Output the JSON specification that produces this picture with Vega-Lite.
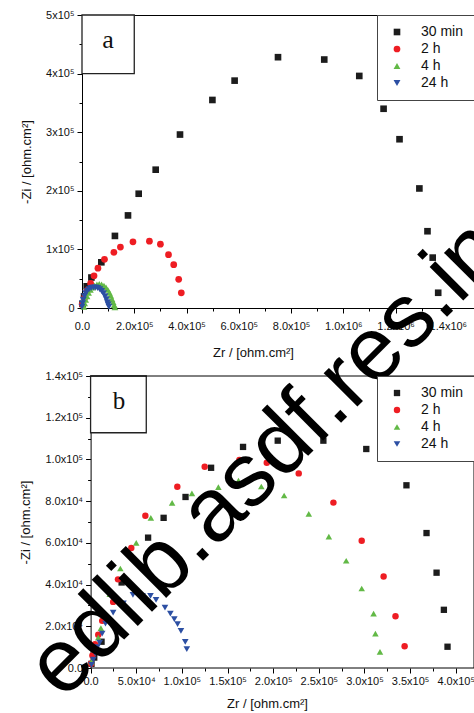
{
  "$schema": "https://vega.github.io/schema/vega-lite/v6.json",
  "padding": {"left": 11, "top": 8, "right": 0, "bottom": 0},
  "bounds": "flush",
  "spacing": 68,
  "resolve": {"scale": {"color": "independent", "shape": "independent", "size": "independent"}, "legend": {"color": "independent", "shape": "independent", "size": "independent"}},
  "config": {
    "font": "Liberation Sans",
    "view": {"stroke": "#000", "strokeWidth": 1},
    "axis": {"domainColor": "#000", "tickColor": "#000", "labelColor": "#111", "titleColor": "#111", "labelFont": "Liberation Sans", "titleFont": "Liberation Sans", "labelFontSize": 11, "titleFontSize": 13, "titleFontWeight": "normal", "grid": false, "tickSize": 5, "labelOverlap": false, "labelFlush": false},
    "legend": {"orient": "top-right", "offset": 0, "strokeColor": "#444", "fillColor": "white", "padding": 10, "symbolOffset": 3, "labelOffset": 17, "rowPadding": 3, "labelFontSize": 14, "labelFont": "Liberation Sans", "labelColor": "#111", "title": null}
  },
  "datasets": {
    "a": [
      {"series": "30 min", "zr": 2000, "zi": 7000}, {"series": "30 min", "zr": 8000, "zi": 20000}, {"series": "30 min", "zr": 18000, "zi": 37000}, {"series": "30 min", "zr": 36000, "zi": 52000}, {"series": "30 min", "zr": 74000, "zi": 78000}, {"series": "30 min", "zr": 126000, "zi": 123000}, {"series": "30 min", "zr": 176000, "zi": 158000}, {"series": "30 min", "zr": 217000, "zi": 195000}, {"series": "30 min", "zr": 282000, "zi": 236000}, {"series": "30 min", "zr": 375000, "zi": 296000}, {"series": "30 min", "zr": 499000, "zi": 355000}, {"series": "30 min", "zr": 584000, "zi": 388000}, {"series": "30 min", "zr": 750000, "zi": 428000}, {"series": "30 min", "zr": 927000, "zi": 424000}, {"series": "30 min", "zr": 1061000, "zi": 396000}, {"series": "30 min", "zr": 1154000, "zi": 340000}, {"series": "30 min", "zr": 1215000, "zi": 288000}, {"series": "30 min", "zr": 1291000, "zi": 204000}, {"series": "30 min", "zr": 1322000, "zi": 131000}, {"series": "30 min", "zr": 1342000, "zi": 86000}, {"series": "30 min", "zr": 1363000, "zi": 26000},
      {"series": "2 h", "zr": 1000, "zi": 6000}, {"series": "2 h", "zr": 10000, "zi": 18000}, {"series": "2 h", "zr": 20000, "zi": 30000}, {"series": "2 h", "zr": 33000, "zi": 42000}, {"series": "2 h", "zr": 46000, "zi": 55000}, {"series": "2 h", "zr": 61000, "zi": 68000}, {"series": "2 h", "zr": 86000, "zi": 83000}, {"series": "2 h", "zr": 122000, "zi": 95000}, {"series": "2 h", "zr": 147000, "zi": 104000}, {"series": "2 h", "zr": 195000, "zi": 113000}, {"series": "2 h", "zr": 258000, "zi": 114000}, {"series": "2 h", "zr": 300000, "zi": 109000}, {"series": "2 h", "zr": 331000, "zi": 91000}, {"series": "2 h", "zr": 351000, "zi": 74000}, {"series": "2 h", "zr": 370000, "zi": 49000}, {"series": "2 h", "zr": 380000, "zi": 26000},
      {"series": "4 h", "zr": 7000, "zi": 2000}, {"series": "4 h", "zr": 10000, "zi": 8000}, {"series": "4 h", "zr": 14000, "zi": 14000}, {"series": "4 h", "zr": 19000, "zi": 20000}, {"series": "4 h", "zr": 25000, "zi": 26000}, {"series": "4 h", "zr": 32000, "zi": 31000}, {"series": "4 h", "zr": 40000, "zi": 35000}, {"series": "4 h", "zr": 48000, "zi": 38000}, {"series": "4 h", "zr": 57000, "zi": 40000}, {"series": "4 h", "zr": 66000, "zi": 41000}, {"series": "4 h", "zr": 75000, "zi": 40000}, {"series": "4 h", "zr": 84000, "zi": 38000}, {"series": "4 h", "zr": 92000, "zi": 35000}, {"series": "4 h", "zr": 99000, "zi": 31000}, {"series": "4 h", "zr": 105000, "zi": 26000}, {"series": "4 h", "zr": 110000, "zi": 21000}, {"series": "4 h", "zr": 115000, "zi": 15000}, {"series": "4 h", "zr": 119000, "zi": 10000}, {"series": "4 h", "zr": 123000, "zi": 5000}, {"series": "4 h", "zr": 126000, "zi": 1000},
      {"series": "24 h", "zr": 0, "zi": 2000}, {"series": "24 h", "zr": 2000, "zi": 8000}, {"series": "24 h", "zr": 5000, "zi": 14000}, {"series": "24 h", "zr": 9000, "zi": 20000}, {"series": "24 h", "zr": 14000, "zi": 25000}, {"series": "24 h", "zr": 20000, "zi": 29000}, {"series": "24 h", "zr": 27000, "zi": 32000}, {"series": "24 h", "zr": 35000, "zi": 34000}, {"series": "24 h", "zr": 44000, "zi": 35000}, {"series": "24 h", "zr": 52000, "zi": 35000}, {"series": "24 h", "zr": 60000, "zi": 34000}, {"series": "24 h", "zr": 68000, "zi": 32000}, {"series": "24 h", "zr": 75000, "zi": 29000}, {"series": "24 h", "zr": 82000, "zi": 25000}, {"series": "24 h", "zr": 88000, "zi": 20000}, {"series": "24 h", "zr": 93000, "zi": 15000}, {"series": "24 h", "zr": 97000, "zi": 10000}, {"series": "24 h", "zr": 100000, "zi": 6000}, {"series": "24 h", "zr": 103000, "zi": 2000}
    ],
    "b": [
      {"series": "30 min", "zr": 1000, "zi": 2000}, {"series": "30 min", "zr": 4000, "zi": 5000}, {"series": "30 min", "zr": 12000, "zi": 12600}, {"series": "30 min", "zr": 34000, "zi": 41000}, {"series": "30 min", "zr": 63000, "zi": 62500}, {"series": "30 min", "zr": 80000, "zi": 72000}, {"series": "30 min", "zr": 104000, "zi": 82000}, {"series": "30 min", "zr": 132000, "zi": 96000}, {"series": "30 min", "zr": 167000, "zi": 106000}, {"series": "30 min", "zr": 205000, "zi": 109000}, {"series": "30 min", "zr": 255000, "zi": 109000}, {"series": "30 min", "zr": 302000, "zi": 105000}, {"series": "30 min", "zr": 346000, "zi": 87600}, {"series": "30 min", "zr": 368000, "zi": 64700}, {"series": "30 min", "zr": 379000, "zi": 45700}, {"series": "30 min", "zr": 387000, "zi": 27900}, {"series": "30 min", "zr": 391000, "zi": 10200},
      {"series": "2 h", "zr": 500, "zi": 2000}, {"series": "2 h", "zr": 2000, "zi": 6000}, {"series": "2 h", "zr": 4800, "zi": 11400}, {"series": "2 h", "zr": 8400, "zi": 15900}, {"series": "2 h", "zr": 12700, "zi": 22600}, {"series": "2 h", "zr": 24700, "zi": 31700}, {"series": "2 h", "zr": 30000, "zi": 42500}, {"series": "2 h", "zr": 44600, "zi": 57500}, {"series": "2 h", "zr": 60000, "zi": 73000}, {"series": "2 h", "zr": 95000, "zi": 86900}, {"series": "2 h", "zr": 125000, "zi": 96500}, {"series": "2 h", "zr": 163000, "zi": 99800}, {"series": "2 h", "zr": 193000, "zi": 98400}, {"series": "2 h", "zr": 228000, "zi": 93300}, {"series": "2 h", "zr": 266000, "zi": 79300}, {"series": "2 h", "zr": 297000, "zi": 61000}, {"series": "2 h", "zr": 321000, "zi": 43900}, {"series": "2 h", "zr": 334000, "zi": 24800}, {"series": "2 h", "zr": 344000, "zi": 10400},
      {"series": "4 h", "zr": 1000, "zi": 3000}, {"series": "4 h", "zr": 4000, "zi": 9000}, {"series": "4 h", "zr": 8400, "zi": 14600}, {"series": "4 h", "zr": 11300, "zi": 19100}, {"series": "4 h", "zr": 21000, "zi": 35400}, {"series": "4 h", "zr": 32600, "zi": 47700}, {"series": "4 h", "zr": 50000, "zi": 60000}, {"series": "4 h", "zr": 66000, "zi": 72000}, {"series": "4 h", "zr": 89300, "zi": 79200}, {"series": "4 h", "zr": 111000, "zi": 83700}, {"series": "4 h", "zr": 140000, "zi": 86700}, {"series": "4 h", "zr": 162000, "zi": 89800}, {"series": "4 h", "zr": 187000, "zi": 87000}, {"series": "4 h", "zr": 212000, "zi": 82700}, {"series": "4 h", "zr": 239000, "zi": 73900}, {"series": "4 h", "zr": 261000, "zi": 63000}, {"series": "4 h", "zr": 280000, "zi": 51400}, {"series": "4 h", "zr": 297000, "zi": 38100}, {"series": "4 h", "zr": 310000, "zi": 26100}, {"series": "4 h", "zr": 312000, "zi": 16500}, {"series": "4 h", "zr": 317000, "zi": 7700},
      {"series": "24 h", "zr": 1000, "zi": 1500}, {"series": "24 h", "zr": 3000, "zi": 4000}, {"series": "24 h", "zr": 5000, "zi": 7000}, {"series": "24 h", "zr": 7500, "zi": 10000}, {"series": "24 h", "zr": 10000, "zi": 12200}, {"series": "24 h", "zr": 12700, "zi": 16500}, {"series": "24 h", "zr": 16300, "zi": 21300}, {"series": "24 h", "zr": 24700, "zi": 26600}, {"series": "24 h", "zr": 36000, "zi": 31000}, {"series": "24 h", "zr": 46400, "zi": 35100}, {"series": "24 h", "zr": 57000, "zi": 34500}, {"series": "24 h", "zr": 65600, "zi": 34600}, {"series": "24 h", "zr": 71700, "zi": 32700}, {"series": "24 h", "zr": 81500, "zi": 29000}, {"series": "24 h", "zr": 87400, "zi": 26100}, {"series": "24 h", "zr": 91700, "zi": 23400}, {"series": "24 h", "zr": 95300, "zi": 21000}, {"series": "24 h", "zr": 99000, "zi": 17800}, {"series": "24 h", "zr": 103700, "zi": 12500}, {"series": "24 h", "zr": 105400, "zi": 9000}
    ]
  },
  "vconcat": [
    {
      "width": 392,
      "height": 293,
      "resolve": {"axis": {"x": "independent", "y": "independent"}},
      "layer": [
        {
          "data": {"values": [{}]},
          "mark": {"type": "rect", "fill": "white", "stroke": "#222", "strokeWidth": 1.3},
          "encoding": {
            "x": {"datum": 0, "type": "quantitative", "scale": {"domain": [0, 1500000], "nice": false},
              "axis": {"orient": "bottom", "values": [100000, 300000, 500000, 700000, 900000, 1100000, 1300000], "labels": false, "domain": false, "tickSize": 3, "title": null}},
            "x2": {"datum": 200000},
            "y": {"datum": 400000, "type": "quantitative", "scale": {"domain": [0, 500000], "nice": false},
              "axis": {"orient": "left", "values": [50000, 150000, 250000, 350000, 450000], "labels": false, "domain": false, "tickSize": 3, "title": null}},
            "y2": {"datum": 500000}
          }
        },
        {
          "data": {"values": [{}]},
          "mark": {"type": "text", "text": "a", "font": "Liberation Serif", "fontSize": 26, "color": "#111", "baseline": "middle", "dy": -4},
          "encoding": {
            "x": {"datum": 100000, "type": "quantitative", "axis": null},
            "y": {"datum": 450000, "type": "quantitative", "axis": null}
          }
        },
        {
          "data": {"name": "a"},
          "mark": {"type": "point", "filled": true, "opacity": 1},
          "encoding": {
            "x": {"field": "zr", "type": "quantitative", "scale": {"domain": [0, 1500000], "nice": false},
              "axis": {"orient": "bottom", "title": "Zr / [ohm.cm²]", "titleX": 171, "labelPadding": 7, "titlePadding": 15, "values": [0, 200000, 400000, 600000, 800000, 1000000, 1200000, 1400000], "labelExpr": "datum.value == 0 ? '0.0' : (datum.value < 1000000 ? format(datum.value / 100000, '.1f') + 'x10⁵' : format(datum.value / 1000000, '.1f') + 'x10⁶')"}},
            "y": {"field": "zi", "type": "quantitative", "scale": {"domain": [0, 500000], "nice": false},
              "axis": {"orient": "left", "title": "-Zi / [ohm.cm²]", "labelPadding": 3, "titlePadding": 12, "values": [0, 100000, 200000, 300000, 400000, 500000], "labelExpr": "datum.value == 0 ? '0' : format(datum.value / 100000, 'd') + 'x10⁵'"}},
            "color": {"field": "series", "type": "nominal", "scale": {"domain": ["30 min", "2 h", "4 h", "24 h"], "range": ["#1c1c1c", "#ee1d23", "#62b946", "#2c4fa3"]}, "legend": {}},
            "shape": {"field": "series", "type": "nominal", "scale": {"domain": ["30 min", "2 h", "4 h", "24 h"], "range": ["square", "circle", "triangle-up", "triangle-down"]}, "legend": {}},
            "size": {"field": "series", "type": "nominal", "scale": {"domain": ["30 min", "2 h", "4 h", "24 h"], "range": [44, 48, 62, 62]}, "legend": {}}
          }
        }
      ]
    },
    {
      "width": 392,
      "height": 292,
      "view": {"stroke": null},
      "resolve": {"axis": {"x": "independent", "y": "independent"}},
      "layer": [
        {
          "data": {"values": [{}]},
          "mark": {"type": "rect", "fill": "white", "stroke": "#222", "strokeWidth": 1.3},
          "encoding": {
            "x": {"datum": 0, "type": "quantitative", "scale": {"domain": [-9406, 420000], "nice": false},
              "axis": {"orient": "bottom", "values": [25000, 75000, 125000, 175000, 225000, 275000, 325000, 375000], "labels": false, "domain": false, "tickSize": 3, "title": null}},
            "x2": {"datum": 61000},
            "y": {"datum": 112800, "type": "quantitative", "scale": {"domain": [0, 140000], "nice": false},
              "axis": {"orient": "left", "offset": -8.6, "values": [10000, 30000, 50000, 70000, 90000, 110000, 130000], "labels": false, "domain": false, "tickSize": 3, "title": null}},
            "y2": {"datum": 140000}
          }
        },
        {
          "data": {"values": [{}]},
          "mark": {"type": "text", "text": "b", "font": "Liberation Serif", "fontSize": 25, "color": "#111", "baseline": "middle", "dy": -2},
          "encoding": {
            "x": {"datum": 31000, "type": "quantitative", "axis": null},
            "y": {"datum": 127000, "type": "quantitative", "axis": null}
          }
        },
        {
          "data": {"values": [{}]},
          "mark": {"type": "rule", "color": "#000", "strokeWidth": 1},
          "encoding": {
            "x": {"datum": 0, "type": "quantitative", "axis": null},
            "x2": {"datum": 420000},
            "y": {"datum": 140000, "type": "quantitative", "axis": null}
          }
        },
        {
          "data": {"values": [{}]},
          "mark": {"type": "rule", "color": "#000", "strokeWidth": 1},
          "encoding": {
            "x": {"datum": 0, "type": "quantitative", "axis": null},
            "x2": {"datum": 420000},
            "y": {"datum": 0, "type": "quantitative", "axis": null}
          }
        },
        {
          "data": {"values": [{}]},
          "mark": {"type": "rule", "color": "#000", "strokeWidth": 1},
          "encoding": {
            "x": {"datum": 420000, "type": "quantitative", "axis": null},
            "y": {"datum": 0, "type": "quantitative", "axis": null},
            "y2": {"datum": 140000}
          }
        },
        {
          "data": {"name": "b"},
          "mark": {"type": "point", "filled": true, "opacity": 1},
          "encoding": {
            "x": {"field": "zr", "type": "quantitative", "scale": {"domain": [-9406, 420000], "nice": false},
              "axis": {"orient": "bottom", "domain": false, "title": "Zr / [ohm.cm²]", "titleX": 185, "labelPadding": 2, "titlePadding": 11, "values": [0, 50000, 100000, 150000, 200000, 250000, 300000, 350000, 400000], "labelExpr": "datum.value == 0 ? '0.0' : (datum.value < 100000 ? format(datum.value / 10000, '.1f') + 'x10⁴' : format(datum.value / 100000, '.1f') + 'x10⁵')"}},
            "y": {"field": "zi", "type": "quantitative", "scale": {"domain": [0, 140000], "nice": false},
              "axis": {"orient": "left", "offset": -8.6, "title": "-Zi / [ohm.cm²]", "labelPadding": 3, "titlePadding": 12, "values": [0, 20000, 40000, 60000, 80000, 100000, 120000, 140000], "labelExpr": "datum.value == 0 ? '0.0' : (datum.value < 100000 ? format(datum.value / 10000, '.1f') + 'x10⁴' : format(datum.value / 100000, '.1f') + 'x10⁵')"}},
            "color": {"field": "series", "type": "nominal", "scale": {"domain": ["30 min", "2 h", "4 h", "24 h"], "range": ["#1c1c1c", "#ee1d23", "#62b946", "#2c4fa3"]}, "legend": {}},
            "shape": {"field": "series", "type": "nominal", "scale": {"domain": ["30 min", "2 h", "4 h", "24 h"], "range": ["square", "circle", "triangle-up", "triangle-down"]}, "legend": {}},
            "size": {"field": "series", "type": "nominal", "scale": {"domain": ["30 min", "2 h", "4 h", "24 h"], "range": [40, 44, 58, 58]}, "legend": {}}
          }
        },
        {
          "data": {"values": [{}]},
          "mark": {"type": "text", "text": "edlib.asdf.res.in", "font": "Liberation Sans", "fontSize": 90, "angle": -45, "align": "left", "baseline": "alphabetic", "color": "#000"},
          "encoding": {
            "x": {"datum": -30422, "type": "quantitative", "axis": null},
            "y": {"datum": -15822, "type": "quantitative", "axis": null}
          }
        }
      ]
    }
  ]
}
